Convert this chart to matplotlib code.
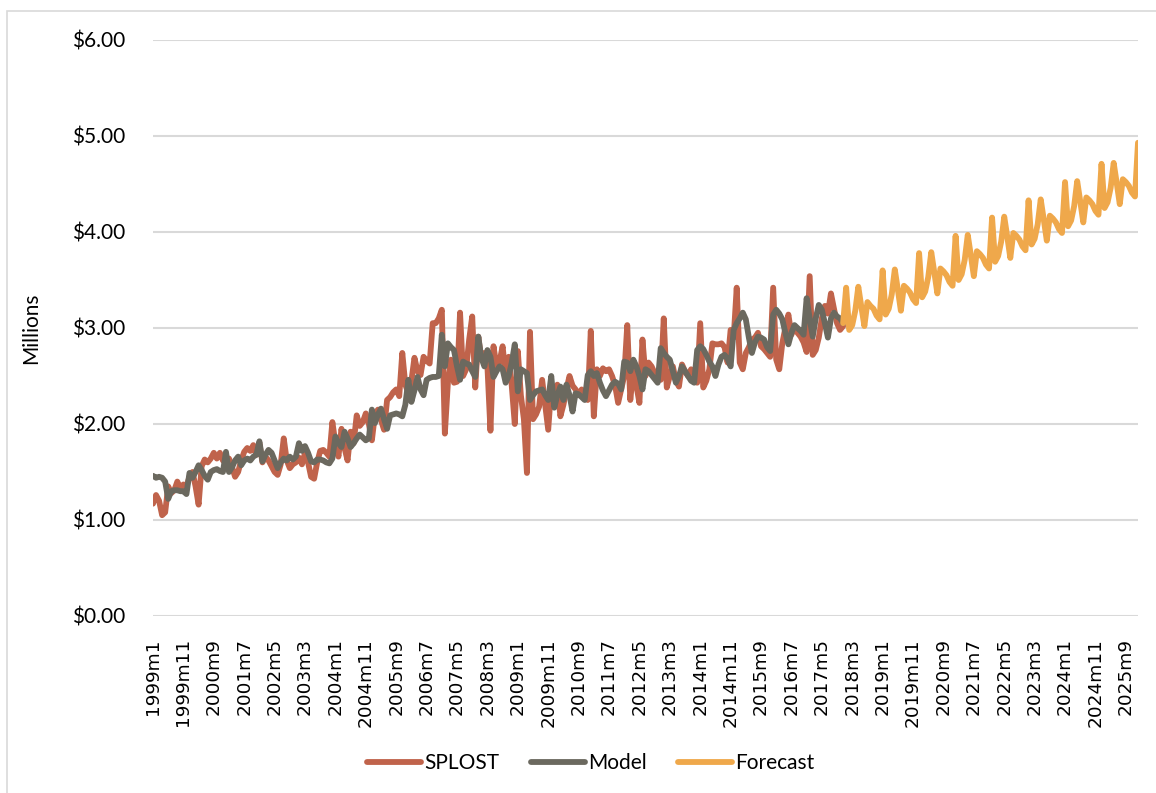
import matplotlib
matplotlib.use("Agg")
import matplotlib.pyplot as plt
from matplotlib.patches import Rectangle

# monthly categories, 1999m1 .. 2026m1
start_year = 1999
n_months = 325
months = [f"{start_year + i // 12}m{i % 12 + 1}" for i in range(n_months)]

# SPLOST actuals ($ millions), 1999m1 .. 2017m12
splost = [
    1.17, 1.26, 1.20, 1.05, 1.08, 1.35, 1.28, 1.31, 1.40, 1.33, 1.37, 1.35,
    1.45, 1.50, 1.35, 1.16, 1.56, 1.63, 1.60, 1.64, 1.70, 1.64, 1.70, 1.62,
    1.60, 1.64, 1.55, 1.45, 1.50, 1.62, 1.71, 1.75, 1.72, 1.78, 1.68, 1.80,
    1.60, 1.66, 1.62, 1.56, 1.50, 1.47, 1.58, 1.85, 1.62, 1.54, 1.58, 1.60,
    1.65, 1.58, 1.70, 1.60, 1.45, 1.43, 1.60, 1.72, 1.73, 1.70, 1.66, 2.02,
    1.80, 1.66, 1.95, 1.75, 1.62, 1.92, 1.80, 2.09, 1.98, 2.02, 2.11, 2.00,
    1.83, 2.10, 2.15, 2.04, 1.94, 2.25, 2.28, 2.33, 2.36, 2.29, 2.74, 2.41,
    2.32, 2.45, 2.69, 2.55, 2.51, 2.70, 2.66, 2.63, 3.05, 3.05, 3.10, 3.19,
    1.90, 2.43, 2.67, 2.43, 2.44, 3.16, 2.50, 2.57, 2.88, 3.12, 2.38, 2.91,
    2.67, 2.74, 2.60, 1.93, 2.81, 2.60, 2.65, 2.81, 2.50, 2.70, 2.40, 2.00,
    2.76, 2.30, 2.05, 1.49, 2.96, 2.05, 2.10, 2.18, 2.46, 2.20, 1.94, 2.38,
    2.25, 2.41, 2.08, 2.20, 2.36, 2.50, 2.40, 2.36, 2.30, 2.36, 2.28, 2.25,
    2.97, 2.08, 2.57, 2.50, 2.58, 2.55, 2.57, 2.50, 2.40, 2.22, 2.36, 2.50,
    3.03, 2.25, 2.57, 2.40, 2.22, 2.88, 2.50, 2.64, 2.60, 2.53, 2.46, 2.46,
    3.10, 2.38, 2.50, 2.60, 2.45, 2.39, 2.62, 2.55, 2.50, 2.57, 2.52, 2.43,
    3.05, 2.38, 2.45, 2.57, 2.84, 2.83, 2.83, 2.84, 2.80, 2.64, 2.98, 2.90,
    3.42, 2.64, 2.57, 2.74, 2.80, 2.88, 2.90, 2.95, 2.81, 2.78, 2.74, 2.70,
    3.42, 2.67, 2.57, 2.84, 3.00, 3.14, 2.93, 3.02, 2.95, 2.91, 2.85, 2.75,
    3.54, 2.72, 2.77, 2.90, 3.10, 3.23, 3.15, 3.36, 3.20, 3.05, 2.98, 3.02,
]

# fitted model, same months
model = [
    1.46, 1.44, 1.45, 1.44, 1.40, 1.22, 1.30, 1.31, 1.31, 1.30, 1.30, 1.27,
    1.49, 1.44, 1.50, 1.57, 1.52, 1.46, 1.42, 1.50, 1.52, 1.53, 1.51, 1.50,
    1.71, 1.50, 1.55, 1.62, 1.66, 1.57, 1.62, 1.64, 1.62, 1.66, 1.68, 1.82,
    1.61, 1.68, 1.73, 1.70, 1.62, 1.54, 1.60, 1.64, 1.62, 1.66, 1.63, 1.66,
    1.80, 1.72, 1.77, 1.70, 1.61, 1.60, 1.63, 1.63, 1.62, 1.60, 1.59, 1.64,
    1.87, 1.80, 1.76, 1.92, 1.85, 1.76, 1.80, 1.85, 1.89, 1.86, 1.83, 1.85,
    2.15, 2.01, 2.10, 2.16, 2.05, 1.95, 2.09, 2.10, 2.11, 2.10, 2.08, 2.20,
    2.46, 2.23, 2.35, 2.49, 2.36, 2.30, 2.46, 2.48, 2.49, 2.49, 2.50, 2.93,
    2.60, 2.84, 2.80, 2.77, 2.60, 2.46, 2.65, 2.63, 2.62, 2.55, 2.49, 2.91,
    2.69, 2.60, 2.77, 2.70, 2.49, 2.55, 2.60, 2.57, 2.43, 2.50, 2.64, 2.83,
    2.34, 2.57, 2.55, 2.53, 2.25, 2.30, 2.34, 2.35, 2.36, 2.30, 2.25, 2.50,
    2.17, 2.30, 2.39, 2.25, 2.41, 2.30, 2.13, 2.32, 2.31, 2.28, 2.25, 2.51,
    2.55, 2.50, 2.53, 2.43, 2.35, 2.29, 2.35, 2.41, 2.44, 2.42, 2.36, 2.65,
    2.64, 2.55, 2.67, 2.60, 2.50, 2.36, 2.57, 2.55, 2.51, 2.47, 2.43, 2.79,
    2.74, 2.70, 2.67, 2.55, 2.43, 2.50, 2.60, 2.55, 2.50, 2.45, 2.43, 2.77,
    2.81, 2.78, 2.72, 2.65, 2.60, 2.50, 2.62, 2.70, 2.72, 2.68, 2.60, 2.98,
    3.05, 3.10, 3.16, 3.09, 2.90, 2.74, 2.85, 2.91, 2.90, 2.88, 2.80, 2.76,
    3.14, 3.19, 3.15, 3.09, 2.95, 2.83, 2.95, 3.03, 3.00, 2.97, 2.93, 3.31,
    3.10, 2.91, 3.10, 3.24, 3.19, 3.05, 2.90, 3.10, 3.16, 3.12, 3.10, 3.05,
]

# forecast, 2017m12 .. 2026m1
forecast = [
    3.05,
    3.42, 2.98, 3.03, 3.18, 3.43, 3.22, 3.02, 3.27, 3.23, 3.20, 3.13, 3.09,
    3.60, 3.14, 3.20, 3.35, 3.61, 3.40, 3.18, 3.44, 3.41, 3.37, 3.30, 3.26,
    3.78, 3.32, 3.38, 3.53, 3.79, 3.58, 3.36, 3.62, 3.59, 3.55, 3.48, 3.44,
    3.96, 3.50, 3.56, 3.71, 3.97, 3.76, 3.54, 3.80, 3.77, 3.73, 3.66, 3.62,
    4.15, 3.69, 3.75, 3.90, 4.16, 3.95, 3.73, 3.99, 3.96, 3.92, 3.85, 3.81,
    4.33, 3.87, 3.93, 4.08, 4.34, 4.13, 3.91, 4.17, 4.14, 4.10, 4.03, 3.99,
    4.52, 4.06, 4.12, 4.27, 4.53, 4.32, 4.10, 4.36, 4.33, 4.29, 4.22, 4.18,
    4.71, 4.25, 4.31, 4.46, 4.72, 4.51, 4.29, 4.55, 4.52, 4.48, 4.41, 4.37,
    4.93,
]
forecast_start = n_months - len(forecast)

y_ticks = [0, 1, 2, 3, 4, 5, 6]
y_labels = [f"${v:.2f}" for v in y_ticks]

c_splost = '#C0634B'
c_model = '#6B695F'
c_forecast = '#EFA84B'
grid_c = '#D9D9D9'
txt_font = 'Lato'

fig = plt.figure(figsize=(11.56, 7.93), dpi=100)
fig.patches.append(Rectangle((7 / 1156, -0.1), 1.2, 1.1 - 11 / 793, transform=fig.transFigure,
                             fill=False, edgecolor=grid_c, linewidth=1.2))
ax = fig.add_axes([153 / 1156, 1 - 616 / 793, 985 / 1156, 576 / 793])

lw = 4.2
ax.plot(range(len(splost)), splost, color=c_splost, lw=lw, solid_joinstyle='round',
        solid_capstyle='round', label='SPLOST', zorder=3)
ax.plot(range(len(model)), model, color=c_model, lw=lw, solid_joinstyle='round',
        solid_capstyle='round', label='Model', zorder=4)
ax.plot(range(forecast_start, n_months), forecast, color=c_forecast, lw=lw,
        solid_joinstyle='round', solid_capstyle='round', label='Forecast', zorder=5)

ax.set_xlim(0, n_months - 1)
ax.set_ylim(0, 6)
ax.set_yticks(y_ticks)
ax.set_yticklabels(y_labels, fontfamily=txt_font, fontsize=15)
ax.yaxis.grid(True, color=grid_c, linewidth=1.5)
ax.set_axisbelow(True)

tick_pos = list(range(0, n_months, 10))
ax.set_xticks(tick_pos)
ax.set_xticklabels([months[i] for i in tick_pos], rotation=90, fontfamily='DejaVu Sans',
                   fontsize=13.3)
ax.tick_params(axis='x', length=0, pad=16)
ax.tick_params(axis='y', length=0, pad=20)
for s in ax.spines.values():
    s.set_visible(False)

ax.set_ylabel('Millions', fontfamily=txt_font, fontsize=15, labelpad=22)

fig.legend(loc='center', bbox_to_anchor=(591 / 1156, 1 - 763 / 793), ncol=3, frameon=False,
           prop={'family': txt_font, 'size': 15}, handlelength=2.6, handletextpad=0.15,
           columnspacing=1.5)

fig.savefig('out.png', dpi=100)
